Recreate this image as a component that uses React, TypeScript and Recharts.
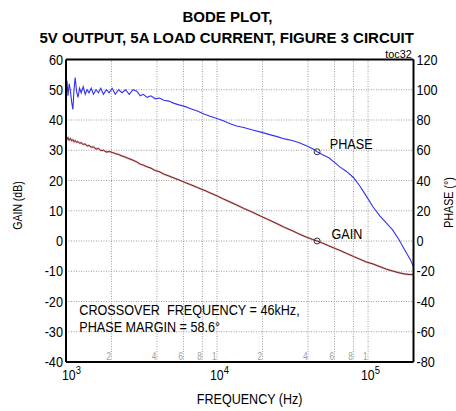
import React from 'react';
import { CartesianGrid, Line, LineChart, ReferenceDot, ReferenceLine, XAxis, YAxis } from 'recharts';

// frequency points (Hz)
const freqs = [
  1000, 1015, 1030, 1050, 1070, 1090, 1110, 1130, 1150, 1175, 1200, 1230, 1260, 1300, 1340, 1380,
  1420, 1470, 1520, 1580, 1640, 1700, 1770, 1850, 1930, 2020, 2120, 2230, 2350, 2480, 2620, 2780,
  2950, 3100, 3250, 3450, 3650, 3900, 4150, 4450, 4800, 5200, 5600, 6100, 6700, 7400, 8200, 9000,
  10000, 11000, 12200, 13500, 15000, 17000, 19500, 22000, 25000, 28000, 31500, 35000, 39000, 43000,
  46000, 50000, 55000, 60000, 65000, 72000, 80000, 88000, 97000, 108000, 120000, 132000, 145000,
  160000, 175000, 190000, 200000,
];

const gainDb = [
  34.5, 33.6, 34.2, 33.3, 33.9, 33.1, 33.5, 32.8, 33.2, 32.6, 32.9, 32.3, 32.5, 31.9, 32.1, 31.4,
  31.6, 31.0, 31.1, 30.4, 30.6, 29.9, 30.0, 29.4, 29.6, 29.3, 28.9, 28.6, 28.1, 27.7, 27.2, 26.7,
  26.1, 25.4, 25.1, 24.5, 24.1, 23.3, 22.9, 22.1, 21.5, 20.8, 20.2, 19.4, 18.6, 17.7, 16.8, 15.9,
  14.9, 13.9, 12.9, 11.9, 10.8, 9.6, 8.2, 7.0, 5.7, 4.5, 3.4, 2.3, 1.3, 0.5,
  0, -0.7, -1.6, -2.4, -3.1, -4.1, -5.1, -6.0, -6.9, -7.6, -8.5, -9.3, -9.9,
  -10.5, -10.9, -11.1, -11.1,
];

const phaseDeg = [
  101, 106, 96, 104, 99, 92, 87, 100, 108, 99, 95, 101, 98, 102, 97, 100,
  98, 101, 97, 100, 98, 101, 97, 100, 98, 101, 97, 100, 98, 100, 97, 100,
  99, 96, 97, 95, 96, 94, 94.5, 93, 92.5, 91, 90, 89, 87.5, 86, 84, 82.5,
  81, 79.5, 77.5, 76, 75, 73.5, 72, 70.5, 69, 67.5, 66.5, 65, 63, 61,
  59, 57, 55, 52, 49, 46, 42, 36.5, 30, 22.5, 16.5, 12, 7.5,
  1, -6, -12, -17,
];

const gainTicks = [-40, -30, -20, -10, 0, 10, 20, 30, 40, 50, 60];
const phaseTicks = [-80, -60, -40, -20, 0, 20, 40, 60, 80, 100, 120];
const decadeTicks = [1000, 10000, 100000];
const decadeExp = ['3', '4', '5'];
const minorGrid = [2000, 4000, 6000, 8000, 10000, 20000, 40000, 60000, 80000, 100000];
const minorLabels = ['2', '4', '6', '8', '1', '2', '4', '6', '8', '1'];

const crossoverHz = 46000;
const crossoverPhase = 59;

const data = freqs.map((f, i) => ({ f, gain: gainDb[i], phase: phaseDeg[i] }));

const FONT = "'Liberation Sans', Arial, sans-serif";
const NARROW = 0.82;
const GRID = '#9c9c9c';

function Narrow({ x, y, size, anchor = 'start', rotate = 0, fill = '#000', children }: any) {
  return (
    <g transform={`translate(${x},${y}) rotate(${rotate}) scale(${NARROW},1)`}>
      <text x={0} y={0} fontSize={size} fill={fill} stroke="none" textAnchor={anchor} fontFamily={FONT} style={{ whiteSpace: 'pre' }}>
        {children}
      </text>
    </g>
  );
}

function LeftTick({ x, y, payload }: any) {
  return <Narrow x={x} y={y + 5} size={15.5} anchor="end">{payload.value}</Narrow>;
}

function RightTick({ x, y, payload }: any) {
  return <Narrow x={x} y={y + 5} size={15.5}>{payload.value}</Narrow>;
}

function DecadeTick({ x, y, index }: any) {
  const start = Math.max(x - 7, 62);
  return (
    <g transform={`translate(${start},${y + 18}) scale(${NARROW},1)`}>
      <text x={0} y={0} fontSize={15} fontFamily={FONT} fill="#000">
        10<tspan dy={-6} fontSize={11.5}>{decadeExp[index]}</tspan>
      </text>
    </g>
  );
}

function dotLabel(text: string, dx: number, dy: number) {
  return (props: any) => {
    const vb = props.viewBox || {};
    const cx = (vb.x || 0) + (vb.width || 0) / 2;
    const cy = (vb.y || 0) + (vb.height || 0) / 2;
    return <Narrow x={cx + dx} y={cy + dy} size={15.4}>{text}</Narrow>;
  };
}

function minorLabel(text: string) {
  return (props: any) => {
    const vb = props.viewBox || {};
    return <Narrow x={(vb.x || 0) - 0.5} y={360} size={10} anchor="end" fill="#a0a0a0">{text}</Narrow>;
  };
}

export default function App() {
  return (
    <div style={{ position: 'absolute', left: 0, top: 0, width: 456, height: 411, background: '#fff' }}>
      <LineChart
        width={456}
        height={411}
        data={data}
        margin={{ top: 59.5, right: 2.5, bottom: 19, left: 6 }}
        style={{ fontFamily: FONT }}
      >
        <CartesianGrid yAxisId="gain" vertical={false} stroke={GRID} strokeDasharray="1 1.5" />
        <XAxis
          dataKey="f"
          type="number"
          scale="log"
          domain={[1000, 200000]}
          ticks={decadeTicks}
          allowDataOverflow
          height={30}
          tickSize={0}
          tickMargin={0}
          tick={<DecadeTick />}
          axisLine={{ stroke: '#000', strokeWidth: 2 }}
          tickLine={false}
        />
        <YAxis
          yAxisId="gain"
          domain={[-40, 60]}
          ticks={gainTicks}
          width={60}
          tickSize={0}
          tickMargin={3}
          tick={<LeftTick />}
          axisLine={{ stroke: '#000', strokeWidth: 2 }}
          tickLine={false}
        />
        <YAxis
          yAxisId="phase"
          orientation="right"
          domain={[-80, 120]}
          ticks={phaseTicks}
          width={40}
          tickSize={0}
          tickMargin={3}
          tick={<RightTick />}
          axisLine={{ stroke: '#000', strokeWidth: 2 }}
          tickLine={false}
        />
        {minorGrid.map((v, i) => (
          <ReferenceLine
            key={v}
            yAxisId="gain"
            x={v}
            stroke={GRID}
            strokeDasharray="1 1.5"
            label={minorLabel(minorLabels[i])}
          />
        ))}
        <ReferenceLine yAxisId="gain" y={60} stroke="#000" strokeWidth={2} />
        <Line yAxisId="gain" dataKey="gain" name="gain halo" type="linear" stroke="#dcb4b4" strokeWidth={2} dot={false} isAnimationActive={false} />
        <Line yAxisId="gain" dataKey="gain" name="gain" type="linear" stroke="#6e0c0c" strokeWidth={0.9} dot={false} isAnimationActive={false} />
        <Line yAxisId="phase" dataKey="phase" name="phase" type="linear" stroke="#3030f0" strokeWidth={1.1} dot={false} isAnimationActive={false} />
        <ReferenceDot
          yAxisId="phase"
          x={crossoverHz}
          y={crossoverPhase}
          r={3}
          fill="none"
          stroke="#333"
          strokeWidth={1}
          label={dotLabel('PHASE', 12.7, -2.7)}
        />
        <ReferenceDot
          yAxisId="gain"
          x={crossoverHz}
          y={0}
          r={3}
          fill="none"
          stroke="#333"
          strokeWidth={1}
          label={dotLabel('GAIN', 14.4, -1.7)}
        />
      </LineChart>
      <svg width={456} height={411} style={{ position: 'absolute', left: 0, top: 0, pointerEvents: 'none' }}>
        <text x={227.5} y={21.7} textAnchor="middle" fontFamily={FONT} fontWeight="bold" fontSize={15}>BODE PLOT,</text>
        <text x={226.7} y={43.3} textAnchor="middle" fontFamily={FONT} fontWeight="bold" fontSize={15}>5V OUTPUT, 5A LOAD CURRENT, FIGURE 3 CIRCUIT</text>
        <text x={411.7} y={58} textAnchor="end" fontFamily={FONT} fontSize={10.8}>toc32</text>
        <Narrow x={21.5} y={205.5} size={12.8} anchor="middle" rotate={-90}>GAIN (dB)</Narrow>
        <Narrow x={452.5} y={202.5} size={13} anchor="middle" rotate={-90}>PHASE (°)</Narrow>
        <Narrow x={249.7} y={403.5} size={15.3} anchor="middle">FREQUENCY (Hz)</Narrow>
        <Narrow x={79.3} y={315} size={15.4}>CROSSOVER  FREQUENCY = 46kHz,</Narrow>
        <Narrow x={79.3} y={331.7} size={15.4}>PHASE MARGIN = 58.6°</Narrow>
      </svg>
    </div>
  );
}
